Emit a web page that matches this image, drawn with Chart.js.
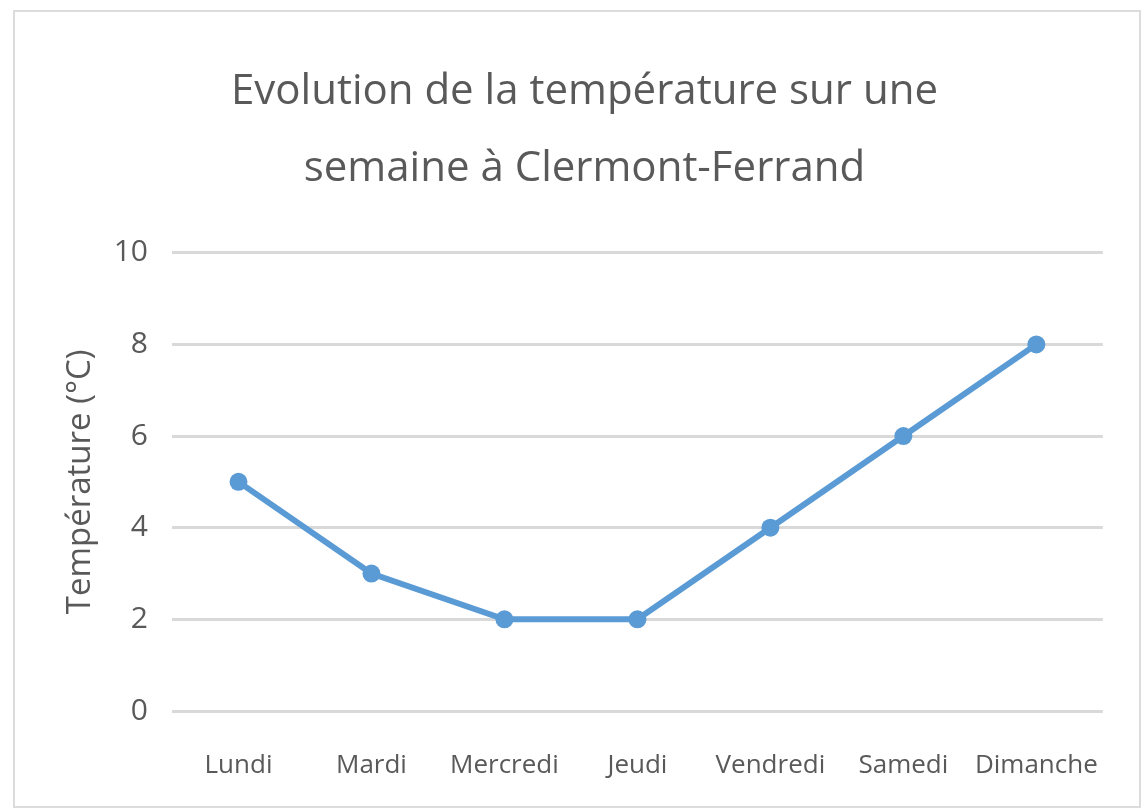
<!DOCTYPE html>
<html>
<head>
<meta charset="utf-8">
<script src="https://cdn.jsdelivr.net/npm/chart.js@4"></script>
<style>
    body { margin: 0; background: #fff; }
    #cadre { position: absolute; left: 13px; top: 10px; width: 1124px; height: 794px; border: 2px solid #dcdcdc; background: #fff; }
</style>
</head>
<body>
<div id="cadre"><canvas id="tempChart" width="1124" height="794"></canvas></div>
<script>
// Données
const jours = ['Lundi', 'Mardi', 'Mercredi', 'Jeudi', 'Vendredi', 'Samedi', 'Dimanche'];
const temperatures = [5, 3, 2, 2, 4, 6, 8];
const titre = ['Evolution de la température sur une', 'semaine à Clermont-Ferrand'];
const titreAxeY = 'Température (°C)';

const police = "'Open Sans', sans-serif";

const ctx = document.getElementById('tempChart').getContext('2d');
const chart = new Chart(ctx, {
    type: 'line',
    data: {
        labels: jours,
        datasets: [{
            label: 'Température',
            data: temperatures,
            borderColor: '#5b9bd5',
            backgroundColor: '#5b9bd5',
            borderWidth: 6,
            pointRadius: 9,
            pointBackgroundColor: '#5b9bd5',
            pointBorderWidth: 0,
            tension: 0
        }]
    },
    options: {
        responsive: false,
        animation: false,
        layout: { padding: { left: 46, right: 31, top: 30, bottom: 0 } },
        plugins: {
            legend: { display: false },
            tooltip: { enabled: false },
            title: {
                display: true,
                text: titre,
                color: '#595959',
                font: { family: police, size: 42, weight: 'normal', lineHeight: 1.83 },
                padding: { top: 12, bottom: 45 }
            }
        },
        scales: {
            x: {
                offset: true,
                grid: { display: false, drawTicks: false },
                border: { display: false },
                ticks: { color: '#595959', font: { family: police, size: 26 }, padding: 39, maxRotation: 0 },
                afterFit: function(scale) { scale.height = 95; }
            },
            y: {
                min: 0,
                max: 10,
                ticks: { stepSize: 2, color: '#595959', font: { family: police, size: 30 }, padding: 24 },
                grid: { color: '#d9d9d9', lineWidth: 3, drawTicks: false },
                border: { display: false },
                title: {
                    display: true,
                    text: titreAxeY,
                    color: '#595959',
                    font: { family: police, size: 33 },
                    padding: { top: 0, bottom: 0 }
                },
                afterFit: function(scale) { scale.width = 111; }
            }
        }
    }
});
</script>
</body>
</html>
